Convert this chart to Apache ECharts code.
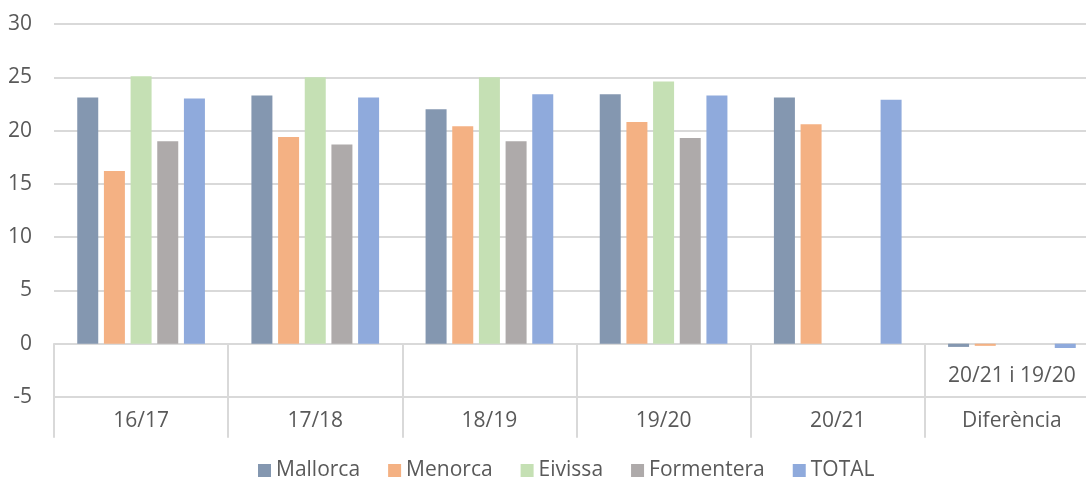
<!DOCTYPE html>
<html>
<head>
<meta charset="utf-8">
<script src="https://cdn.jsdelivr.net/npm/echarts@6/dist/echarts.min.js"></script>
<style>
html,body{margin:0;padding:0;background:#fff;}
#chart{width:1086px;height:478px;}
</style>
</head>
<body>
<div id="chart"></div>
<script>
// Data
const categories = ['16/17', '17/18', '18/19', '19/20', '20/21', 'Diferència'];
const innerLabels = ['', '', '', '', '', '20/21 i 19/20'];
const seriesNames = ['Mallorca', 'Menorca', 'Eivissa', 'Formentera', 'TOTAL'];
const mallorca   = [23.1, 23.3, 22.0, 23.4, 23.1, -0.3];
const menorca    = [16.2, 19.4, 20.4, 20.8, 20.6, -0.2];
const eivissa    = [25.1, 25.0, 25.0, 24.6, null, null];
const formentera = [19.0, 18.7, 19.0, 19.3, null, null];
const total      = [23.0, 23.1, 23.4, 23.3, 22.9, -0.4];
const yTicks = { min: -5, max: 30, interval: 5 };

const colors = ['#8497b0', '#f4b183', '#c5e0b4', '#aeaaaa', '#8faadc'];
const values = [mallorca, menorca, eivissa, formentera, total];
const FONT = '"Open Sans", "Noto Sans", sans-serif';
const FS = 21;
const TXT = '#595959';
const GRID = '#d9d9d9';
const GRID_H = 373;
const zeroOffset = -GRID_H * (0 - yTicks.min) / (yTicks.max - yTicks.min);

const chart = echarts.init(document.getElementById('chart'), null, { renderer: 'canvas' });
chart.setOption({
  animation: false,
  color: colors,
  textStyle: { fontFamily: FONT },
  grid: { left: 54, top: 24, width: 1045, height: GRID_H, containLabel: false, outerBoundsMode: 'none' },
  legend: {
    top: 455,
    left: 253,
    icon: 'rect',
    itemWidth: 13,
    itemHeight: 13,
    itemGap: 28,
    textStyle: { fontFamily: FONT, fontSize: FS, color: TXT },
    data: seriesNames
  },
  xAxis: [
    {
      type: 'category',
      data: categories,
      position: 'bottom',
      offset: zeroOffset,
      axisLine: { show: true, onZero: false, lineStyle: { color: GRID, width: 2 } },
      axisTick: { show: true, interval: 0, length: 94, lineStyle: { color: GRID, width: 2 } },
      splitLine: { show: false },
      axisLabel: {
        interval: 0,
        margin: 22,
        fontFamily: FONT, fontSize: FS, color: TXT,
        formatter: function (v, i) { return innerLabels[i]; }
      }
    },
    {
      type: 'category',
      data: categories,
      position: 'bottom',
      axisLine: { show: false, onZero: false },
      axisTick: { show: false },
      splitLine: { show: false },
      axisLabel: { interval: 0, margin: 14, fontFamily: FONT, fontSize: FS, color: TXT }
    }
  ],
  yAxis: {
    type: 'value',
    min: yTicks.min,
    max: yTicks.max,
    interval: yTicks.interval,
    axisLine: { show: false },
    axisTick: { show: false },
    splitLine: { show: true, lineStyle: { color: GRID, width: 2 } },
    axisLabel: { margin: 22, fontFamily: FONT, fontSize: FS, color: TXT }
  },
  series: seriesNames.map((name, i) => ({
    name: name,
    type: 'bar',
    xAxisIndex: 0,
    data: values[i],
    barWidth: 21,
    barGap: '27%',
    itemStyle: { color: colors[i] }
  }))
});
</script>
</body>
</html>
